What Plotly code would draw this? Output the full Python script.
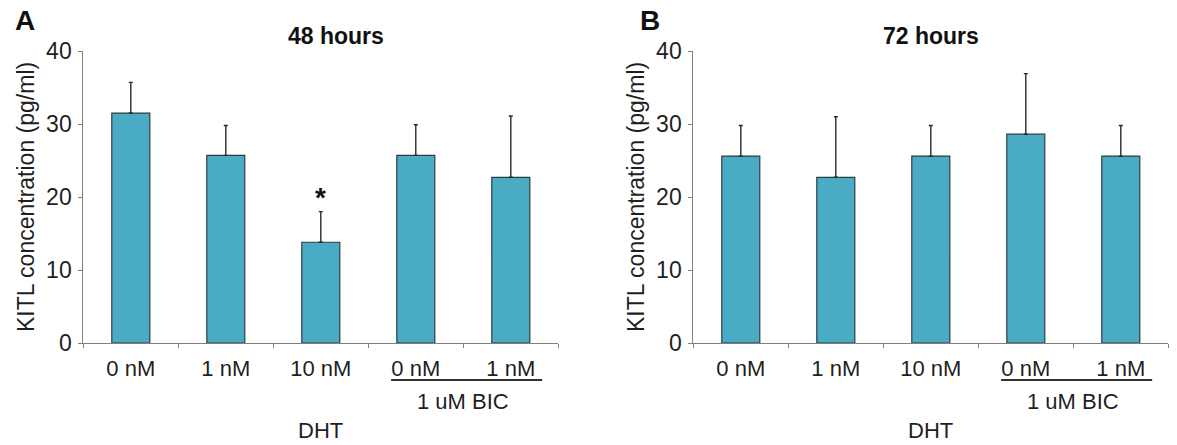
import plotly.graph_objects as go

# Treatment groups (DHT dose; last two also receive 1 uM BIC)
dose_labels = ["0 nM", "1 nM", "10 nM", "0 nM", "1 nM"]
positions = [0, 1, 2, 3, 4]

# KITL concentration (pg/ml), mean and upper error
kitl_48h = [31.5, 25.7, 13.8, 25.7, 22.7]
err_48h = [4.2, 4.1, 4.2, 4.2, 8.4]
kitl_72h = [25.6, 22.7, 25.6, 28.6, 25.6]
err_72h = [4.2, 8.3, 4.2, 8.3, 4.2]

y_ticks = [0, 10, 20, 30, 40]

W, H = 1177, 445
FONT = "Arial, Liberation Sans, sans-serif"
BAR_FILL = "#4aabc5"
BAR_EDGE = "#2f3d42"
AXIS_GREY = "#808080"
TEXT = "#1f1f1f"


def px_x(p):
    return p / W


def px_y(p):
    return 1 - p / H


def bar_trace(values, errors, xa, ya):
    return go.Bar(
        x=positions,
        y=values,
        width=0.4,
        marker=dict(color=BAR_FILL, line=dict(color=BAR_EDGE, width=1.2)),
        error_y=dict(
            type="data",
            symmetric=False,
            array=errors,
            arrayminus=[0] * len(errors),
            color="#2a2a2a",
            thickness=1.4,
            width=2,
        ),
        xaxis=xa,
        yaxis=ya,
        showlegend=False,
    )


fig = go.Figure()
fig.add_trace(bar_trace(kitl_48h, err_48h, "x", "y"))
fig.add_trace(bar_trace(kitl_72h, err_72h, "x2", "y2"))

boundaries = [p - 0.5 for p in positions] + [positions[-1] + 0.5]

xaxis_common = dict(
    range=[-0.5, 4.5],
    tickmode="array",
    tickvals=positions,
    ticktext=dose_labels,
    ticks="",
    showline=True,
    linecolor=AXIS_GREY,
    linewidth=1,
    showgrid=False,
    zeroline=False,
    automargin=False,
    tickfont=dict(family=FONT, size=22, color=TEXT),
    ticklabelstandoff=6,
    minor=dict(ticks="outside", tickvals=boundaries, ticklen=4,
               tickcolor=AXIS_GREY, tickwidth=1, showgrid=False),
    fixedrange=True,
)
yaxis_common = dict(
    range=[0, 40],
    tickmode="array",
    tickvals=y_ticks,
    ticks="outside",
    ticklen=4,
    tickcolor=AXIS_GREY,
    showline=True,
    linecolor=AXIS_GREY,
    linewidth=1,
    showgrid=False,
    zeroline=False,
    automargin=False,
    tickfont=dict(family=FONT, size=23, color=TEXT),
    ticklabelstandoff=2,
    domain=[px_y(343), px_y(51)],
    fixedrange=True,
)

fig.update_layout(
    width=W,
    height=H,
    margin=dict(l=0, r=0, t=0, b=0, pad=0, autoexpand=False),
    paper_bgcolor="white",
    plot_bgcolor="white",
    xaxis=dict(xaxis_common, domain=[px_x(83.3), px_x(558.3)], anchor="y"),
    yaxis=dict(yaxis_common, anchor="x"),
    xaxis2=dict(xaxis_common, domain=[px_x(693.3), px_x(1168.3)], anchor="y2"),
    yaxis2=dict(yaxis_common, anchor="x2"),
    bargap=0.6,
)


def label(text, x, y, size, xref="paper", yref="paper", angle=0, color=TEXT):
    return dict(text=text, x=x, y=y, xref=xref, yref=yref, showarrow=False,
                xanchor="center", yanchor="middle", textangle=angle,
                font=dict(family=FONT, size=size, color=color))


annotations = []
# Panel letters and titles
for letter, lx, title, tx in [("A", 25, "48 hours", 336), ("B", 650, "72 hours", 931)]:
    annotations.append(label(f"<b>{letter}</b>", px_x(lx), px_y(21), 28, color="#111"))
    annotations.append(label(f"<b>{title}</b>", px_x(tx), px_y(36), 23, color="#111"))

# Y-axis titles
for ax_x in [26, 636]:
    annotations.append(label("KITL concentration (pg/ml)", px_x(ax_x), px_y(197), 23, angle=-90))

# Group labels under each panel
for xr in ["x", "x2"]:
    annotations.append(label("1 uM BIC", 3.5, px_y(401), 22, xref=xr))
    annotations.append(label("DHT", 2, px_y(430), 22, xref=xr))

# Significance marker over the 10 nM bar at 48 h
annotations.append(label("<b>*</b>", 2, 19.9, 28, xref="x", yref="y", color="#111"))

fig.update_layout(annotations=annotations)

# Bracket line under the BIC-treated groups
for xr in ["x", "x2"]:
    fig.add_shape(type="line", xref=xr, yref="paper", x0=2.74, x1=4.33,
                  y0=px_y(380), y1=px_y(380), line=dict(color="#333", width=2.2))

fig.write_html("out.html")
